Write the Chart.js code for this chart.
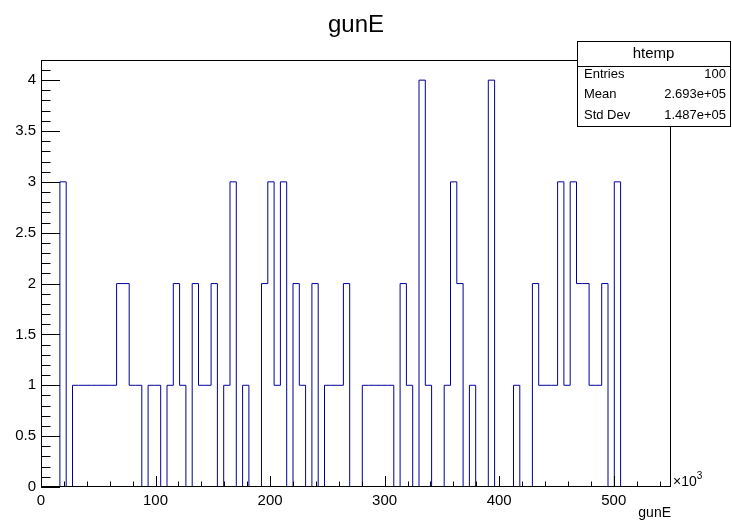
<!DOCTYPE html>
<html>
<head>
<meta charset="utf-8">
<script src="https://cdn.jsdelivr.net/npm/chart.js@4/dist/chart.umd.min.js"></script>
<style>
  html, body { margin: 0; padding: 0; background: #fff; }
  canvas { display: block; }
</style>
</head>
<body>
<canvas id="c" width="732" height="522"></canvas>
<script>
// Histogram of gunE: 100 equal bins over [xMin, xMax]
const xMin = 0;
const xMax = 550000;
const binCounts = [
  0, 0, 0, 3, 0, 1, 1, 1, 1, 1,
  1, 1, 2, 2, 1, 1, 0, 1, 1, 0,
  1, 2, 1, 0, 2, 1, 1, 2, 0, 1,
  3, 0, 1, 0, 0, 2, 3, 1, 3, 0,
  2, 1, 0, 2, 0, 1, 1, 1, 2, 0,
  0, 1, 1, 1, 1, 1, 0, 2, 1, 0,
  4, 1, 0, 0, 1, 3, 2, 0, 1, 0,
  0, 4, 0, 0, 0, 1, 0, 0, 2, 1,
  1, 1, 3, 1, 3, 2, 2, 1, 1, 2,
  0, 3, 0, 0, 0, 0, 0, 0, 0, 0
];
const xTickValues = [0, 100000, 200000, 300000, 400000, 500000];
const yTickValues = [0, 0.5, 1, 1.5, 2, 2.5, 3, 3.5, 4];
const statsTitle = 'htemp';
const statsLabels = ['Entries', 'Mean', 'Std Dev'];
const statsValues = ['100', '2.693e+05', '1.487e+05'];

const FONT = '"Liberation Sans", Arial, Helvetica, sans-serif';
const LINE_COLOR = '#000099';

// Step outline: each bin edge carries that bin's content, closed at xMax
const binWidth = (xMax - xMin) / binCounts.length;
const points = binCounts.map((v, i) => ({ x: xMin + i * binWidth, y: v }));
points.push({ x: xMax, y: 0 });

const yMax = Math.max(...binCounts) * 1.05;

// Frame, inward ticks, stats box and exponent label
const rootDecor = {
  id: 'rootDecor',
  afterDraw(chart) {
    const ctx = chart.ctx;
    const a = chart.chartArea;
    const xs = chart.scales.x, ys = chart.scales.y;
    ctx.save();
    ctx.strokeStyle = '#000';
    ctx.lineWidth = 1;
    // frame
    ctx.strokeRect(Math.round(a.left) + 0.5, Math.round(a.top) + 0.5,
                   Math.round(a.right - a.left) - 1, Math.round(a.bottom - a.top) - 1);
    ctx.beginPath();
    // x ticks: minor every 20k, major every 100k
    for (let v = xMin; v <= xMax + 1; v += 20000) {
      const px = Math.round(xs.getPixelForValue(v)) + 0.5;
      const major = v % 100000 === 0;
      const len = major ? 11 : 5.5;
      ctx.moveTo(px, a.bottom);
      ctx.lineTo(px, a.bottom - len);
    }
    // y ticks: minor every 0.1, major every 0.5
    for (let k = 0; k <= Math.round(yMax * 10); k++) {
      const v = k / 10;
      const py = Math.round(ys.getPixelForValue(v)) + 0.5;
      const major = k % 5 === 0;
      const len = major ? 19 : 9.5;
      ctx.moveTo(a.left, py);
      ctx.lineTo(a.left + len, py);
    }
    ctx.stroke();

    // exponent next to the x axis end
    ctx.fillStyle = '#000';
    ctx.font = '14px ' + FONT;
    ctx.textAlign = 'left';
    ctx.textBaseline = 'alphabetic';
    ctx.fillText('\u00d710', a.right + 2, a.bottom - 1);
    const w = ctx.measureText('\u00d710').width;
    ctx.font = '10px ' + FONT;
    ctx.fillText('3', a.right + 2 + w, a.bottom - 8);

    // stats box
    const bx = 577, by = 41, bw = 153, bh = 85, hh = 25;
    ctx.fillStyle = '#fff';
    ctx.fillRect(bx, by, bw, bh);
    ctx.strokeRect(bx + 0.5, by + 0.5, bw, bh);
    ctx.beginPath();
    ctx.moveTo(bx, by + hh + 0.5);
    ctx.lineTo(bx + bw, by + hh + 0.5);
    ctx.stroke();
    ctx.fillStyle = '#000';
    ctx.font = '15px ' + FONT;
    ctx.textAlign = 'center';
    ctx.textBaseline = 'middle';
    ctx.fillText(statsTitle, bx + bw / 2, by + 13);
    ctx.font = '13px ' + FONT;
    const rowY = [74, 94, 115];
    statsLabels.forEach((lab, i) => {
      ctx.textAlign = 'left';
      ctx.fillText(lab, bx + 7, rowY[i]);
      ctx.textAlign = 'right';
      ctx.fillText(statsValues[i], bx + bw - 4, rowY[i]);
    });
    ctx.restore();
  }
};

new Chart(document.getElementById('c'), {
  type: 'line',
  data: {
    datasets: [{
      data: points,
      stepped: 'before',
      borderColor: LINE_COLOR,
      borderWidth: 1,
      pointRadius: 0,
      fill: false,
      tension: 0
    }]
  },
  options: {
    responsive: false,
    animation: false,
    devicePixelRatio: 1,
    layout: { padding: { top: 0, right: 61, bottom: 0, left: 0 } },
    plugins: {
      legend: { display: false },
      tooltip: { enabled: false },
      title: {
        display: true,
        text: 'gunE',
        fullSize: false,
        color: '#000',
        font: { family: FONT, size: 24, weight: 'normal', lineHeight: 1.2 },
        padding: { top: 11, bottom: 20 }
      }
    },
    scales: {
      x: {
        type: 'linear',
        min: xMin,
        max: xMax,
        afterFit(s) { s.height = 35; },
        afterBuildTicks(s) { s.ticks = xTickValues.map(v => ({ value: v })); },
        grid: { display: false, drawTicks: false },
        border: { display: false },
        ticks: {
          color: '#000',
          padding: 5,
          maxRotation: 0,
          autoSkip: false,
          font: { family: FONT, size: 15 },
          callback: v => String(v / 1000)
        },
        title: {
          display: true,
          text: 'gunE',
          align: 'end',
          color: '#000',
          font: { family: FONT, size: 14 },
          padding: { top: 0, bottom: 0 }
        }
      },
      y: {
        type: 'linear',
        min: 0,
        max: yMax,
        afterFit(s) { s.width = 41; },
        afterBuildTicks(s) { s.ticks = yTickValues.map(v => ({ value: v })); },
        grid: { display: false, drawTicks: false },
        border: { display: false },
        ticks: {
          color: '#000',
          padding: 5,
          autoSkip: false,
          font: { family: FONT, size: 15 },
          callback: v => String(v)
        }
      }
    }
  },
  plugins: [rootDecor]
});
</script>
</body>
</html>
